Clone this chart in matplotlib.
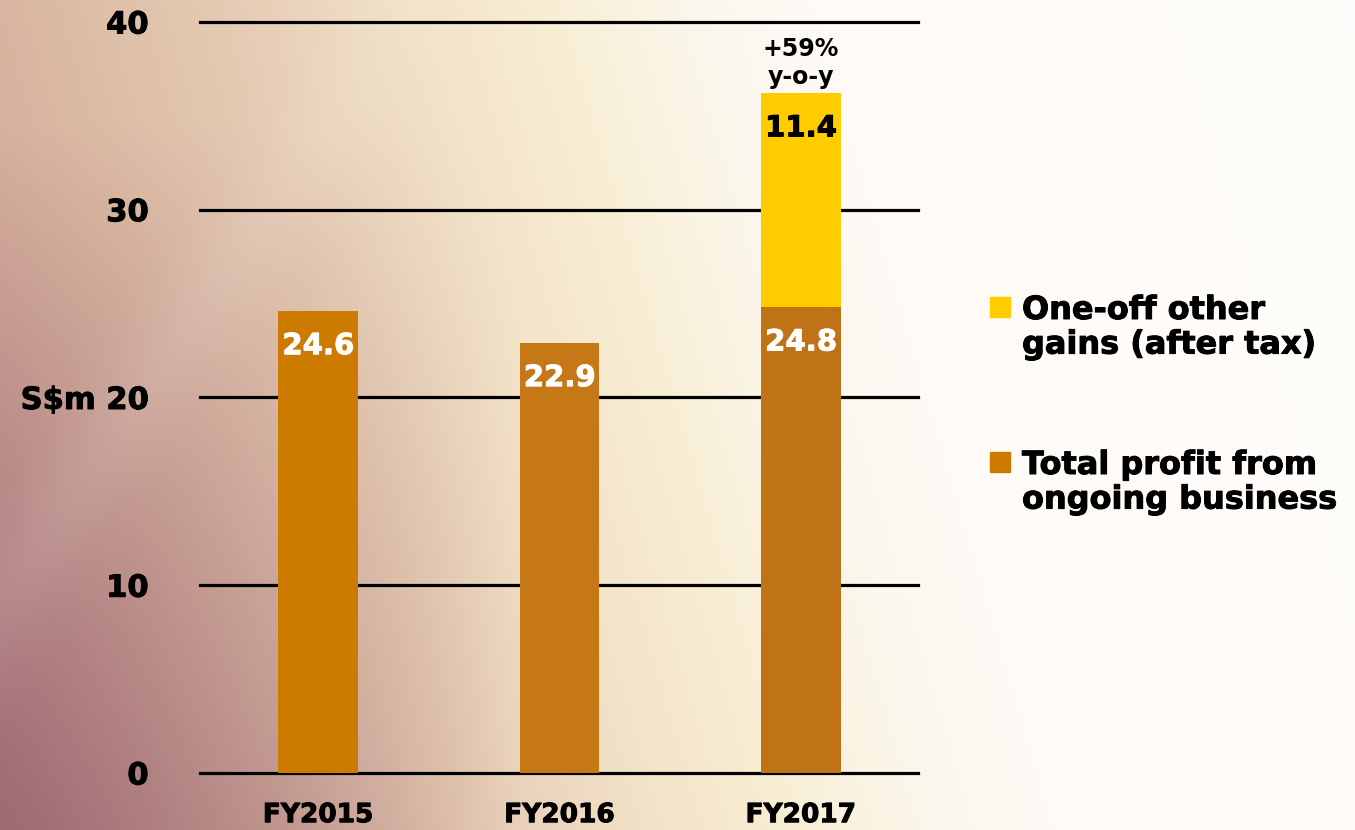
import matplotlib
matplotlib.use("Agg")
import matplotlib.pyplot as plt
import matplotlib.patheffects as pe
import numpy as np
from matplotlib.patches import Rectangle

# --- data ---
years = ["FY2015", "FY2016", "FY2017"]
ongoing = [24.6, 22.9, 24.8]
one_off = [0.0, 0.0, 11.4]
yticks = [0, 10, 20, 30, 40]
ytick_labels = ["0", "10", "S$m 20", "30", "40"]
growth_text = ["+59%", "y-o-y"]
legend_labels = ["One-off other\ngains (after tax)", "Total profit from\nongoing business"]

# --- style ---
ongoing_colors = ["#CC7A00", "#C77816", "#C07216"]
one_off_color = "#FFCC00"
W, H = 1355, 830

plt.rcParams["font.family"] = ["DejaVu Sans"]
plt.rcParams["font.weight"] = "bold"


def heavy(color="black", lw=0.7):
    # thicken the bold glyphs slightly
    return [pe.withStroke(linewidth=lw, foreground=color)]


fig = plt.figure(figsize=(W / 100, H / 100), dpi=100)


def make_background(w, h):
    """Warm mauve -> cream -> white wash across the slide."""
    xs = np.linspace(0, 1, w)
    ys = np.linspace(0, 1, h)
    x, y = np.meshgrid(xs, ys)
    s = x + 0.18 * (1 - y)
    stops = [0.0, 0.2, 0.35, 0.48, 0.58, 0.68, 0.78, 1.3]
    cols = np.array([
        (205, 158, 148), (218, 184, 162), (230, 204, 180), (242, 226, 200),
        (248, 238, 212), (251, 246, 234), (254, 251, 247), (254, 253, 251),
    ], dtype=float)
    img = np.zeros((h, w, 3))
    for c in range(3):
        img[..., c] = np.interp(s, stops, cols[:, c])
    # darker mauve in the lower-left corner
    m = np.clip((0.38 - x) / 0.38, 0, 1) * np.clip((y - 0.15) / 0.85, 0, 1)
    mauve = np.array((150, 96, 110), dtype=float)
    img = img * (1 - 0.85 * m[..., None]) + mauve * 0.85 * m[..., None]
    # faint light streak running up to the right
    px, py = x * W, y * H
    x0, y0, x1, y1 = 0, 600, 330, 120
    d = np.abs((y1 - y0) * px - (x1 - x0) * py + x1 * y0 - y1 * x0) / np.hypot(x1 - x0, y1 - y0)
    streak = 0.10 * np.exp(-(d / 45) ** 2) * np.clip((0.4 - x) / 0.15, 0, 1)
    img = img * (1 - streak[..., None]) + 245 * streak[..., None]
    return np.clip(img / 255, 0, 1)


bg = fig.add_axes([0, 0, 1, 1], zorder=-1)
bg.imshow(make_background(340, 208), aspect="auto", interpolation="bilinear")
bg.axis("off")

ax = fig.add_axes([200 / W, 1 - 773 / H, 718 / W, 751 / H])
ax.set_facecolor("none")

x = np.arange(len(years))
ax.bar(x, ongoing, width=0.33, color=ongoing_colors, zorder=3)
ax.bar(x, one_off, width=0.33, bottom=ongoing, color=one_off_color, zorder=3)

# value labels inside the bar tops
for i in range(len(years)):
    ax.annotate(f"{ongoing[i]:.1f}", (x[i], ongoing[i]), xytext=(0, -31),
                textcoords="offset points", ha="center", va="baseline",
                fontsize=21, color="white", zorder=4, path_effects=heavy("white"))
    if one_off[i] > 0:
        top = ongoing[i] + one_off[i]
        ax.annotate(f"{one_off[i]:.1f}", (x[i], top), xytext=(0, -31),
                    textcoords="offset points", ha="center", va="baseline",
                    fontsize=21, color="black", zorder=4, path_effects=heavy())
        ax.annotate(growth_text[0], (x[i], top), xytext=(0, 27),
                    textcoords="offset points", ha="center", va="baseline",
                    fontsize=17, color="black")
        ax.annotate(growth_text[1], (x[i], top), xytext=(0, 7),
                    textcoords="offset points", ha="center", va="baseline",
                    fontsize=17, color="black")

ax.set_xlim(-0.49, 2.485)
ax.set_ylim(0, 40)
ax.set_yticks(yticks)
ax.set_yticklabels(ytick_labels, fontsize=22)
ax.set_xticks(x)
ax.set_xticklabels(years, fontsize=19)
ax.tick_params(axis="y", length=0, pad=37)
ax.tick_params(axis="x", length=0, pad=21)
for lab in ax.get_yticklabels() + ax.get_xticklabels():
    lab.set_path_effects(heavy())
ax.yaxis.grid(True, color="black", linewidth=2.3, zorder=1)
for gl in ax.get_ygridlines():
    gl.set_clip_on(False)
ax.set_axisbelow(True)
for sp in ax.spines.values():
    sp.set_visible(False)

# legend drawn as squares plus wrapped labels
legend_colors = [one_off_color, ongoing_colors[0]]
square_tops = [297, 452]
for lab, col, top in zip(legend_labels, legend_colors, square_tops):
    fig.patches.append(Rectangle((990 / W, 1 - (top + 20) / H), 20 / W, 20 / H,
                                 transform=fig.transFigure, color=col))
    fig.text(1022 / W, 1 - (top - 2) / H, lab, fontsize=23, va="top", ha="left",
             linespacing=1.15, path_effects=heavy())

fig.savefig("out.png", dpi=100)
